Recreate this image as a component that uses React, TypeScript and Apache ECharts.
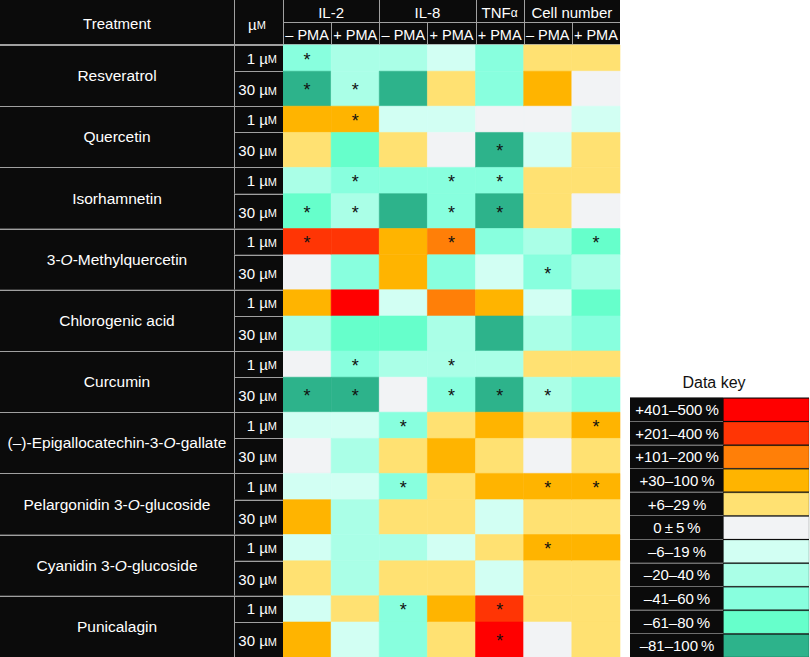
import React, { useEffect, useRef } from 'react';
import * as echarts from 'echarts';

// ---------- data ----------
const treatments = [
  'Resveratrol',
  'Quercetin',
  'Isorhamnetin',
  '3-{i|O}-Methylquercetin',
  'Chlorogenic acid',
  'Curcumin',
  '(–)-Epigallocatechin-3-{i|O}-gallate',
  'Pelargonidin 3-{i|O}-glucoside',
  'Cyanidin 3-{i|O}-glucoside',
  'Punicalagin',
];
const doses = ['1 µ{sc|M}', '30 µ{sc|M}'];
const groupLabels = ['IL-2', 'IL-8', 'TNF{a|α}', 'Cell number'];
const groupSpans = [2, 2, 1, 2];
const columnLabels = ['– PMA', '+ PMA', '– PMA', '+ PMA', '+ PMA', '– PMA', '+ PMA'];

// bin level (data key: +5 = +401–500 %, 0 = 0 ± 5 %, -5 = –81–100 %)
// rows: Res 1, Res 30, Que 1, Que 30, Iso 1, Iso 30, 3OMQ 1, 3OMQ 30, Chl 1, Chl 30,
//       Cur 1, Cur 30, EGCG 1, EGCG 30, Pel 1, Pel 30, Cya 1, Cya 30, Pun 1, Pun 30
const il2Minus = [-3, -5, 2, 1, -2, -4, 4, 0, 2, -2, 0, -5, -1, 0, -1, 2, -1, 1, -1, 2];
const il2Plus = [-2, -2, 2, -4, -3, -2, 4, -3, 5, -4, -3, -5, -1, -2, -1, -2, -2, -2, 1, -1];
const il8Minus = [-2, -5, -1, 1, -3, -5, 2, 2, -1, -4, -2, 0, -3, 1, -3, 1, -2, 1, -3, -3];
const il8Plus = [-1, 1, -1, 0, -3, -3, 3, -3, 3, -2, -2, -3, 1, 2, 1, 1, -1, 1, 2, 1];
const tnfPlus = [-3, -3, 0, -5, -3, -5, -3, -1, 2, -5, -2, -5, 2, 1, 2, -1, 1, -1, 4, 5];
const cellMinus = [1, 2, 0, -1, 1, 1, -2, -3, -1, -2, 1, -2, 1, 0, 2, 1, 2, 1, 1, 0];
const cellPlus = [1, 0, -1, 1, 1, 0, -4, -2, -4, -3, 1, -3, 2, 1, 2, 1, 2, 1, 1, 1];

// rows marked with an asterisk
const il2MinusSig = [0, 1, 5, 6, 11];
const il2PlusSig = [1, 2, 4, 5, 10, 11];
const il8MinusSig = [12, 14, 18];
const il8PlusSig = [4, 5, 6, 10, 11];
const tnfPlusSig = [3, 4, 5, 11, 18, 19];
const cellMinusSig = [7, 11, 14, 16];
const cellPlusSig = [6, 12, 14];

const keyLabels = [
  '+401–500\u2009%', '+201–400\u2009%', '+101–200\u2009%', '+30–100\u2009%', '+6–29\u2009%',
  '0\u2009±\u20095\u2009%', '–6–19\u2009%', '–20–40\u2009%', '–41–60\u2009%', '–61–80\u2009%', '–81–100\u2009%',
];
const keyLevels = [5, 4, 3, 2, 1, 0, -1, -2, -3, -4, -5];
const keyColors = [
  '#ff0000', '#ff3505', '#ff7f08', '#ffb400', '#ffe172', '#f2f3f5',
  '#d2fff3', '#aaffe7', '#88ffde', '#66ffcb', '#2db38b',
];

// ---------- layout ----------
const FONT = '"Liberation Sans", Arial, Helvetica, sans-serif';
const BLACK = '#0b0b0b';
const LINE = '#a0a0a0';
const TREAT_X = 0;
const DOSE_X = 234;
const GRID_LEFT = 283;
const GRID_TOP = 45;
const GRID_W = 337;
const GRID_H = 612;
const HEAD_MID = 22.5;
const UNITS_1UM = 3;
const UNITS_GROUP = 7;

const columns = [il2Minus, il2Plus, il8Minus, il8Plus, tnfPlus, cellMinus, cellPlus];
const sigs = [il2MinusSig, il2PlusSig, il8MinusSig, il8PlusSig, tnfPlusSig, cellMinusSig, cellPlusSig];
const nCols = columns.length;
const nRows = treatments.length * 2;

const cellData: number[][] = [];
columns.forEach((vals, c) => {
  vals.forEach((v, r) => {
    cellData.push([c, r, v, sigs[c].includes(r) ? 1 : 0]);
  });
});
const rowData = Array.from({ length: nRows }, (_, r) => [0, r]);
const keyData = keyLevels.map((lv, i) => [0, i, lv]);

function rowSpan(r: number) {
  const g = Math.floor(r / 2);
  const d = r % 2;
  const y0 = g * UNITS_GROUP + (d ? UNITS_1UM : 0);
  const y1 = g * UNITS_GROUP + (d ? UNITS_GROUP : UNITS_1UM);
  return { g, d, y0, y1 };
}

const richBase = (size: number) => ({
  fontSize: size, fontFamily: FONT, fill: '#fff',
});
const smallCap = (size: number) => ({
  ...richBase(size), verticalAlign: 'bottom', padding: [0, 0, 1, 0],
});

function buildOption(): any {
  const colW = GRID_W / nCols;
  const header: any[] = [];
  header.push({
    type: 'rect', shape: { x: 0, y: 0, width: GRID_LEFT + GRID_W, height: GRID_TOP },
    style: { fill: BLACK }, silent: true,
  });
  header.push({
    type: 'text', style: {
      text: 'Treatment', x: (TREAT_X + DOSE_X) / 2, y: 23, align: 'center', verticalAlign: 'middle',
      fill: '#fff', fontSize: 15, fontFamily: FONT,
    },
  });
  header.push({
    type: 'text', style: {
      text: 'µ{sc|M}', x: 257, y: 24, align: 'center', verticalAlign: 'middle',
      fill: '#fff', fontSize: 15, fontFamily: FONT,
      rich: { sc: smallCap(11) },
    },
  });
  let start = 0;
  groupLabels.forEach((lab, i) => {
    const span = groupSpans[i];
    const cx = GRID_LEFT + (start + span / 2) * colW;
    header.push({
      type: 'text', style: {
        text: lab, x: cx, y: 12.5, align: 'center', verticalAlign: 'middle',
        fill: '#fff', fontSize: 15, fontFamily: FONT,
        rich: { a: smallCap(12) },
      },
    });
    if (i > 0) {
      const x = Math.round(GRID_LEFT + start * colW) + 0.5;
      header.push({ type: 'line', shape: { x1: x, y1: 0, x2: x, y2: HEAD_MID }, style: { stroke: LINE, lineWidth: 1 } });
    }
    start += span;
  });
  columnLabels.forEach((lab, c) => {
    header.push({
      type: 'text', style: {
        text: lab, x: GRID_LEFT + (c + 0.5) * colW, y: 34.5, align: 'center', verticalAlign: 'middle',
        fill: '#fff', fontSize: 14.5, fontFamily: FONT,
      },
    });
    if (c > 0) {
      const x = Math.round(GRID_LEFT + c * colW) + 0.5;
      header.push({ type: 'line', shape: { x1: x, y1: HEAD_MID, x2: x, y2: GRID_TOP }, style: { stroke: LINE, lineWidth: 1 } });
    }
  });
  header.push({ type: 'line', shape: { x1: GRID_LEFT, y1: HEAD_MID, x2: GRID_LEFT + GRID_W, y2: HEAD_MID }, style: { stroke: LINE, lineWidth: 1 } });
  header.push({ type: 'line', shape: { x1: 0, y1: GRID_TOP - 0.5, x2: GRID_LEFT + GRID_W, y2: GRID_TOP - 0.5 }, style: { stroke: LINE, lineWidth: 1 } });
  header.push({ type: 'line', shape: { x1: DOSE_X + 0.5, y1: 0, x2: DOSE_X + 0.5, y2: GRID_TOP }, style: { stroke: LINE, lineWidth: 1 } });
  header.push({ type: 'line', shape: { x1: GRID_LEFT + 0.5, y1: 0, x2: GRID_LEFT + 0.5, y2: GRID_TOP }, style: { stroke: LINE, lineWidth: 1 } });
  header.push({
    type: 'text', style: {
      text: 'Data key', x: 714, y: 382, align: 'center', verticalAlign: 'middle',
      fill: '#111', fontSize: 16, fontFamily: FONT,
    },
  });

  return {
    animation: false,
    backgroundColor: '#ffffff',
    grid: [
      { left: GRID_LEFT, top: GRID_TOP, width: GRID_W, height: GRID_H },
      { left: 630, top: 397.5, width: 179, height: 265 },
    ],
    xAxis: [
      { type: 'value', gridIndex: 0, min: 0, max: nCols, show: false },
      { type: 'value', gridIndex: 1, min: 0, max: 1, show: false },
    ],
    yAxis: [
      { type: 'value', gridIndex: 0, min: 0, max: treatments.length * UNITS_GROUP, inverse: true, show: false },
      { type: 'category', gridIndex: 1, data: keyLabels, inverse: true, show: false },
    ],
    visualMap: {
      type: 'piecewise', show: false, seriesIndex: [0, 2], dimension: 2,
      pieces: keyLevels.map((v, i) => ({ value: v, color: keyColors[i] })),
    },
    graphic: header,
    series: [
      {
        type: 'custom', xAxisIndex: 0, yAxisIndex: 0, clip: false,
        data: cellData,
        renderItem: (params: any, api: any) => {
          const c = api.value(0);
          const r = api.value(1);
          const { y0, y1 } = rowSpan(r);
          const p0 = api.coord([c, y0]);
          const p1 = api.coord([c + 1, y1]);
          const color = api.visual('color');
          const children: any[] = [{
            type: 'rect',
            shape: { x: p0[0], y: p0[1], width: p1[0] - p0[0], height: p1[1] - p0[1] },
            style: { fill: color, stroke: color, lineWidth: 0.6 },
          }];
          if (api.value(3)) {
            children.push({
              type: 'text',
              style: {
                text: '*', x: (p0[0] + p1[0]) / 2, y: (p0[1] + p1[1]) / 2 + 1.5,
                align: 'center', verticalAlign: 'middle', fill: '#111', fontSize: 18, fontFamily: FONT,
              },
            });
          }
          return { type: 'group', children };
        },
      },
      {
        type: 'custom', xAxisIndex: 0, yAxisIndex: 0, clip: false,
        data: rowData,
        renderItem: (params: any, api: any) => {
          const r = api.value(1);
          const { g, d, y0, y1 } = rowSpan(r);
          const top = api.coord([0, y0])[1];
          const bot = api.coord([0, y1])[1];
          const children: any[] = [];
          if (d === 0) {
            const gTop = top;
            const gBot = api.coord([0, (g + 1) * UNITS_GROUP])[1];
            children.push({
              type: 'rect', shape: { x: TREAT_X, y: gTop, width: DOSE_X - TREAT_X, height: gBot - gTop },
              style: { fill: BLACK },
            });
            children.push({
              type: 'text', style: {
                text: treatments[g], x: (TREAT_X + DOSE_X) / 2, y: (gTop + gBot) / 2,
                align: 'center', verticalAlign: 'middle', fill: '#fff', fontSize: 15.5, fontFamily: FONT,
                rich: { i: { ...richBase(15.5), fontStyle: 'italic' } },
              },
            });
          }
          children.push({
            type: 'rect', shape: { x: DOSE_X, y: top, width: GRID_LEFT - DOSE_X, height: bot - top },
            style: { fill: BLACK },
          });
          children.push({
            type: 'text', style: {
              text: doses[d], x: 277, y: (top + bot) / 2 + (d ? 1 : 0),
              align: 'right', verticalAlign: 'middle', fill: '#fff', fontSize: 15, fontFamily: FONT,
              rich: { sc: smallCap(11) },
            },
          });
          const ly = Math.round(top) + 0.5;
          children.push({
            type: 'line', shape: { x1: d ? DOSE_X : 0, y1: ly, x2: GRID_LEFT, y2: ly },
            style: { stroke: LINE, lineWidth: 1 },
          });
          children.push({
            type: 'line', shape: { x1: DOSE_X + 0.5, y1: top, x2: DOSE_X + 0.5, y2: bot },
            style: { stroke: LINE, lineWidth: 1 },
          });
          return { type: 'group', children };
        },
      },
      {
        type: 'custom', xAxisIndex: 1, yAxisIndex: 1, clip: false,
        data: keyData,
        renderItem: (params: any, api: any) => {
          const idx = api.value(1);
          const band = api.size([0, 1])[1];
          const cy = api.coord([0, idx])[1];
          const top = cy - band / 2;
          const x0 = params.coordSys.x;
          const w = params.coordSys.width;
          const labW = 92;
          const color = api.visual('color');
          return {
            type: 'group',
            children: [
              { type: 'rect', shape: { x: x0, y: top, width: w, height: band }, style: { fill: BLACK } },
              {
                type: 'rect', shape: { x: x0 + labW + 1.5, y: top + 1, width: w - labW - 1.5, height: band - 1 },
                style: { fill: color, stroke: 'rgba(0,0,0,0.25)', lineWidth: 0.8 },
              },
              {
                type: 'line', shape: { x1: x0, y1: Math.round(top) + 0.5, x2: x0 + labW + 1, y2: Math.round(top) + 0.5 },
                style: { stroke: '#6e6e6e', lineWidth: 1 },
              },
              {
                type: 'text', style: {
                  text: keyLabels[idx], x: x0 + 47, y: cy + 0.5, align: 'center', verticalAlign: 'middle',
                  fill: '#fff', fontSize: 15, fontFamily: FONT,
                },
              },
            ],
          };
        },
      },
    ],
  };
}

export default function App() {
  const ref = useRef<HTMLDivElement>(null);
  useEffect(() => {
    if (!ref.current) return;
    const chart = echarts.init(ref.current, null, { renderer: 'svg' });
    chart.setOption(buildOption());
    return () => chart.dispose();
  }, []);
  return (
    <div
      ref={ref}
      style={{ position: 'absolute', left: 0, top: 0, width: 810, height: 657, background: '#fff' }}
    />
  );
}
